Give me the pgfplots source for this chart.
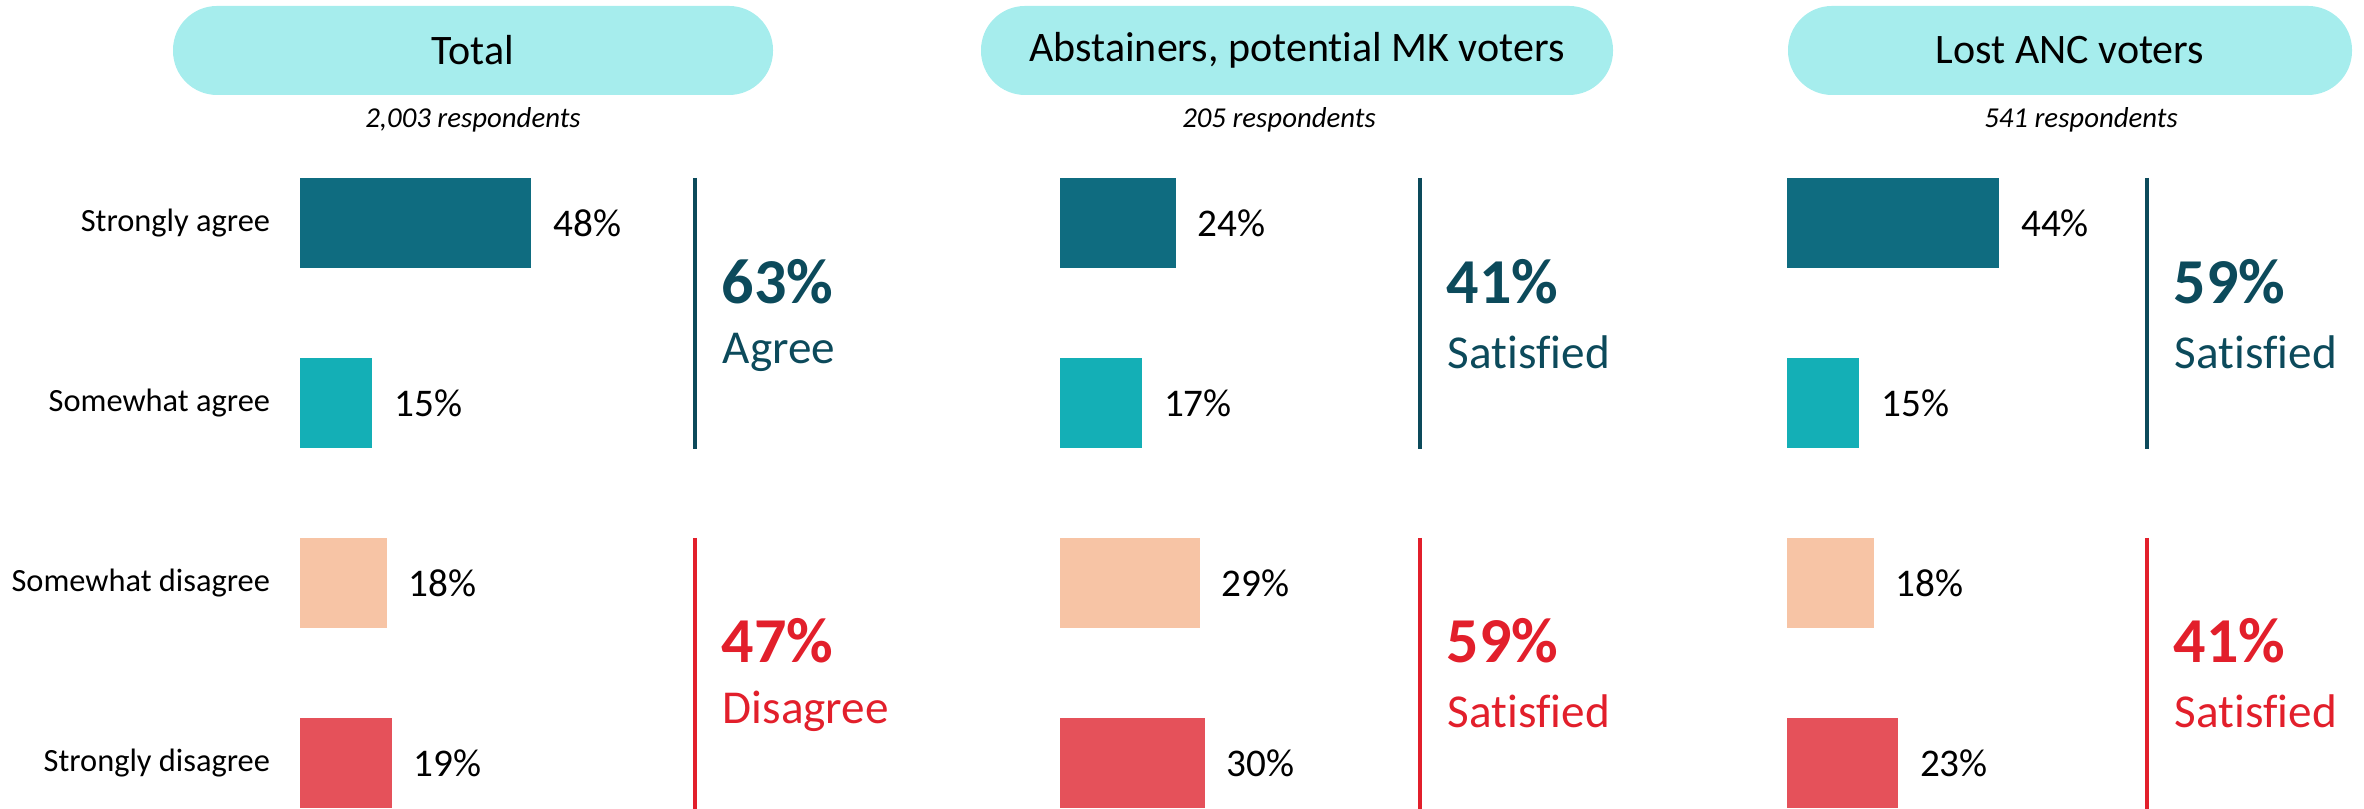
\documentclass[border=0pt]{standalone}
\usepackage{pgfplots}
\pgfplotsset{compat=1.18}
\usepackage{fontspec}
\setmainfont{Carlito}[Ligatures={NoCommon}]
\definecolor{darkteal}{HTML}{0F6C80}
\definecolor{lightteal}{HTML}{14AFB6}
\definecolor{peach}{HTML}{F7C4A5}
\definecolor{redbar}{HTML}{E5515A}
\definecolor{pill}{HTML}{A6EDED}
\definecolor{agreeline}{HTML}{0C4A5B}
\definecolor{disred}{HTML}{E21F2B}

\pgfplotsset{panel/.style={
  xbar, bar width=22.5pt, bar shift=0pt,
  x=1.205pt, y=45pt, y dir=reverse,
  xmin=0, xmax=60, ymin=-0.5, ymax=3.5,
  axis line style={draw=none}, tick style={draw=none},
  xtick=\empty, ytick=\empty, clip=false, anchor=north west,
  point meta=x,
  nodes near coords={\pgfmathprintnumber[assume math mode=true]{\pgfplotspointmeta}\%},
  every node near coord/.append style={black,font=\fontsize{9.8}{11}\selectfont,xshift=2pt},
}}
\newcommand{\bars}[4]{%
  \addplot[draw=none,fill=darkteal] coordinates {(#1,0)};
  \addplot[draw=none,fill=lightteal] coordinates {(#2,1)};
  \addplot[draw=none,fill=peach] coordinates {(#3,2)};
  \addplot[draw=none,fill=redbar] coordinates {(#4,3)};
}
\newcommand{\summary}[5]{% x, top value, top word, bottom value, bottom word
  \draw[agreeline,line width=1.1pt] (#1,178) -- (#1,449);
  \draw[disred,line width=1.1pt] (#1,538) -- (#1,809);
  \node[anchor=west,agreeline,font=\fontsize{16}{18}\selectfont\bfseries,inner sep=0] at (#1+26,282) {#2\%};
  \node[anchor=west,agreeline,font=\fontsize{11.8}{14}\selectfont,inner sep=0] at (#1+27,352) {#3};
  \node[anchor=west,disred,font=\fontsize{16}{18}\selectfont\bfseries,inner sep=0] at (#1+26,641) {#4\%};
  \node[anchor=west,disred,font=\fontsize{11.8}{14}\selectfont,inner sep=0] at (#1+27,711) {#5};
}

\begin{document}
\begin{tikzpicture}
% panel 1: Total
\begin{axis}[panel, at={(75pt,169pt)},
  ytick={0,1,2,3},
  yticklabels={Strongly agree,Somewhat agree,Somewhat disagree,Strongly disagree},
  yticklabel style={font=\fontsize{8.1}{10}\selectfont,xshift=0.3pt}]
\bars{48}{15}{18}{19}
\end{axis}
% panel 2: Abstainers
\begin{axis}[panel, at={(265pt,169pt)}]
\bars{24}{17}{29}{30}
\end{axis}
% panel 3: Lost ANC
\begin{axis}[panel, at={(446.75pt,169pt)}]
\bars{44}{15}{18}{23}
\end{axis}

% decorations in pixel units, y downward
\begin{scope}[x=0.25pt,y=-0.25pt,yshift=202.25pt]
\foreach \a/\b/\t/\r/\c in {173/773/Total/{2,003}/473, 981/1613/{Abstainers, potential MK voters}/205/1279, 1788/2352/Lost ANC voters/541/2081}{
  \fill[pill,rounded corners=11pt] (\a,6) rectangle (\b,95);
  \node[font=\fontsize{10.5}{12}\selectfont] at ({(\a+\b)/2},50) {\t};
  \node[font=\fontsize{7.2}{9}\selectfont\itshape] at (\c,120) {\r\ respondents};
}
\summary{695}{63}{Agree}{47}{Disagree}
\summary{1420}{41}{Satisfied}{59}{Satisfied}
\summary{2147}{59}{Satisfied}{41}{Satisfied}
\end{scope}
\pgfresetboundingbox
\path[use as bounding box] (0,0) rectangle (591pt,202.25pt);
\end{tikzpicture}
\end{document}
